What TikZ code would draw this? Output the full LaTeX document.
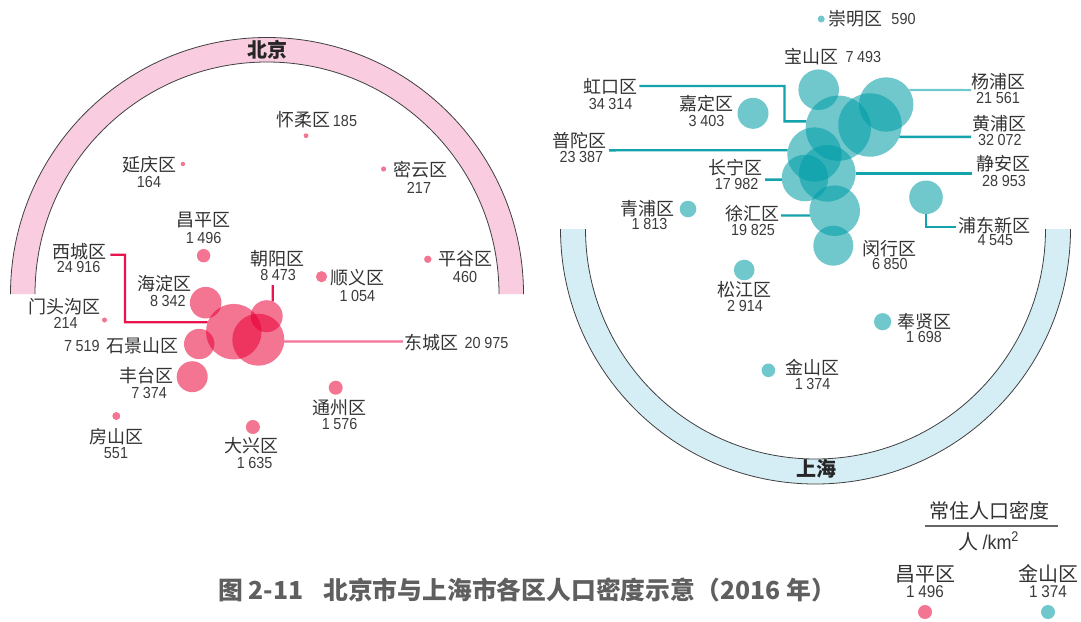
\documentclass[tikz,border=0pt]{standalone}
\usepackage{fontspec}
\newfontfamily\cjk{Noto Sans CJK SC}
\newfontfamily\numf{Liberation Sans}[FakeStretch=0.9]
\newcommand{\gp}{\hspace{0.22em}}
\definecolor{bjcol}{RGB}{233,0,55}
\definecolor{bjdark}{RGB}{232,20,80}
\definecolor{bjlight}{RGB}{243,115,148}
\definecolor{shcol}{RGB}{0,158,167}
\definecolor{shdark}{RGB}{20,162,172}
\definecolor{shlight}{RGB}{112,200,205}
\definecolor{bjband}{RGB}{249,204,224}
\definecolor{shband}{RGB}{213,238,245}
\definecolor{labgray}{RGB}{51,51,51}
\definecolor{numgray}{RGB}{60,60,60}
\definecolor{capgray}{RGB}{95,95,95}
\begin{document}
\begin{tikzpicture}[x=1pt,y=-1pt,
  bjc/.style={circle,inner sep=0pt,outer sep=0pt,draw=none,fill=bjcol,fill opacity=0.54,minimum size=#1*2pt},
  shc/.style={circle,inner sep=0pt,outer sep=0pt,draw=none,fill=shcol,fill opacity=0.56,minimum size=#1*2pt},
  lab/.style={inner sep=0pt,text=labgray,font=\cjk\fontsize{18}{18}\selectfont},
  num/.style={inner sep=0pt,text=numgray,font=\numf\fontsize{16}{16}\selectfont},
  leglab/.style={inner sep=0pt,text=labgray,font=\cjk\fontsize{20}{20}\selectfont},
  legnum/.style={inner sep=0pt,text=numgray,font=\numf\fontsize{17}{17}\selectfont},
  bandlab/.style={inner sep=0pt,text=black!85,font=\cjk\bfseries\fontsize{20}{20}\selectfont},
  bandline/.style={draw=black!75,line width=0.8pt},
  bjline/.style={draw=bjdark,line width=2.3pt},
  bjlline/.style={draw=bjlight,line width=2.1pt},
  shline/.style={draw=shdark,line width=2.4pt},
  shlline/.style={draw=shlight,line width=2.2pt},
  legline/.style={draw=black!60,line width=1.2pt},
  caption/.style={inner sep=0pt,text=capgray,font=\cjk\bfseries\fontsize{24.8}{24.8}\selectfont}]
\useasboundingbox (0,0) rectangle (1081,621);
\fill[white] (0,0) rectangle (1081,621);

% ---------- Beijing band ----------
\coordinate (bjctr) at (267,294);
\fill[bjband] (bjctr) ++(180:256.5pt) arc[start angle=180,end angle=0,radius=256.5pt] -- ++(-24.5pt,0pt) arc[start angle=0,end angle=180,radius=232pt] -- cycle;
\draw[bandline] (bjctr) ++(180:256.5pt) arc[start angle=180,end angle=0,radius=256.5pt];
\draw[bandline] (bjctr) ++(180:232pt) arc[start angle=180,end angle=0,radius=232pt];
\node[bandlab] (bjname) at (267,50) {北京};

% ---------- Shanghai band ----------
\coordinate (shctr) at (815.5,229);
\fill[shband] (shctr) ++(180:255pt) arc[start angle=180,end angle=360,radius=255pt] -- ++(-25pt,0pt) arc[start angle=360,end angle=180,radius=230pt] -- cycle;
\draw[bandline] (shctr) ++(180:255pt) arc[start angle=180,end angle=360,radius=255pt];
\draw[bandline] (shctr) ++(180:230pt) arc[start angle=180,end angle=360,radius=230pt];
\node[bandlab] (shname) at (816,469) {上海};

% ---------- Beijing circles ----------
\node[bjc=6.7] (cp) at (203.6,255.7) {};
\node[bjc=15.8] (hd) at (205.7,302.7) {};
\node[bjc=27.8] (xc) at (233.8,331.7) {};
\node[bjc=26] (dc) at (258.3,339.7) {};
\node[bjc=16] (cy) at (266.7,316.2) {};
\node[bjc=15.2] (sjs) at (199.2,344) {};
\node[bjc=15.5] (ft) at (192.2,376.7) {};
\node[bjc=5.6] (sy) at (321.5,276.7) {};
\node[bjc=3.7] (pg) at (427.8,259.3) {};
\node[bjc=2.5] (mtg) at (104.5,320) {};
\node[bjc=7] (tz) at (335.7,387.7) {};
\node[bjc=4] (fs) at (116.3,416) {};
\node[bjc=7] (dx) at (252.9,427) {};
\node[bjc=2.4] (hr) at (306,135.7) {};
\node[bjc=2.2] (yq) at (182.9,164) {};
\node[bjc=2.6] (my) at (383.6,169) {};

% ---------- Beijing leaders ----------
\coordinate (xcA) at (110.4,254.7);
\coordinate (xcB) at (124.9,254.7);
\coordinate (xcC) at (124.9,322.2);
\draw[bjline] (xcA) -- (xcB) -- (xcC) -- (xc.160);
\coordinate (cyA) at (272.7,285);
\draw[bjline] (cyA) -- (cy.68);
\coordinate (dcA) at (403,341.5);
\draw[bjlline] (dc.-4) -- (dcA);

% ---------- Beijing labels ----------
\node[lab] (hrl) at (303.5,120) {怀柔区};
\node[num] (hrn) at (345,121.3) {185};
\node[lab] (yql) at (149,165) {延庆区};
\node[num] (yqn) at (149,181.7) {164};
\node[lab] (myl) at (420,170) {密云区};
\node[num] (myn) at (419,187.7) {217};
\node[lab] (cpl) at (203.6,220) {昌平区};
\node[num] (cpn) at (203.6,238.3) {1\gp 496};
\node[lab] (xcl) at (79,251.7) {西城区};
\node[num] (xcn) at (78.6,267.3) {24\gp 916};
\node[lab] (cyl) at (277.8,258.3) {朝阳区};
\node[num] (cyn) at (278.2,275) {8\gp 473};
\node[lab] (syl) at (357.4,277.3) {顺义区};
\node[num] (syn) at (357.4,296) {1\gp 054};
\node[lab] (pgl) at (465,259.3) {平谷区};
\node[num] (pgn) at (465,277.3) {460};
\node[lab] (hdl) at (164.5,283.3) {海淀区};
\node[num] (hdn) at (167.8,301) {8\gp 342};
\node[lab] (mtgl) at (64.7,306.7) {门头沟区};
\node[num] (mtgn) at (65.6,323.3) {214};
\node[num] (sjsn) at (81.9,346.3) {7\gp 519};
\node[lab] (sjsl) at (142.2,346) {石景山区};
\node[lab] (dcl) at (431.8,342.7) {东城区};
\node[num] (dcn) at (486.5,343) {20\gp 975};
\node[lab] (ftl) at (146.6,376) {丰台区};
\node[num] (ftn) at (149.2,392.7) {7\gp 374};
\node[lab] (tzl) at (339,407.3) {通州区};
\node[num] (tzn) at (339.6,424) {1\gp 576};
\node[lab] (fsl) at (116.6,436.7) {房山区};
\node[num] (fsn) at (116,452.7) {551};
\node[lab] (dxl) at (251.6,446) {大兴区};
\node[num] (dxn) at (254.6,462.7) {1\gp 635};

% ---------- Shanghai circles ----------
\node[shc=3.5] (cm) at (821.2,19) {};
\node[shc=20.3] (bs) at (818.7,89.7) {};
\node[shc=15.5] (jd) at (753,113.3) {};
\node[shc=32.6] (hk) at (838.3,128.2) {};
\node[shc=27.2] (yp) at (886.2,104.5) {};
\node[shc=31.7] (hp) at (870,125) {};
\node[shc=27.2] (pt) at (814.5,154.5) {};
\node[shc=23.3] (cn) at (805,178) {};
\node[shc=28.3] (ja) at (827.3,173.3) {};
\node[shc=25.3] (xh) at (834.7,210.7) {};
\node[shc=20] (mh) at (833.3,245.7) {};
\node[shc=16.8] (pd) at (926,197.3) {};
\node[shc=8.3] (qp) at (688,209) {};
\node[shc=10.3] (sj) at (744.2,270) {};
\node[shc=8.6] (fx) at (882.6,321.7) {};
\node[shc=6.8] (js) at (768.4,370.3) {};

% ---------- Shanghai leaders ----------
\coordinate (hkA) at (639.4,86);
\coordinate (hkB) at (784.5,86);
\coordinate (hkC) at (784.5,121.4);
\draw[shline] (hkA) -- (hkB) -- (hkC) -- (hk.168);
\coordinate (ypA) at (971,90.1);
\draw[shlline] (yp.32) -- (ypA);
\coordinate (hpA) at (971,136.9);
\draw[shline] (hp.-22) -- (hpA);
\coordinate (ptA) at (609,150.3);
\draw[shline] (ptA) -- (pt.171);
\coordinate (cnA) at (765,179.6);
\draw[shline] (cnA) -- (cn.184);
\coordinate (jaA) at (972,173.3);
\draw[shline] (ja.0) -- (jaA);
\coordinate (xhA) at (781,215.5);
\draw[shline] (xhA) -- (xh.191);
\coordinate (pdA) at (926,226.7);
\coordinate (pdB) at (956,226.7);
\draw[shline] (pd.-90) -- (pdA) -- (pdB);

% ---------- Shanghai labels ----------
\node[lab] (cml) at (855.5,19) {崇明区};
\node[num] (cmn) at (903.5,19.3) {590};
\node[lab] (bsl) at (811.8,56.7) {宝山区};
\node[num] (bsn) at (863.3,57) {7\gp 493};
\node[lab] (hkl) at (610,86) {虹口区};
\node[num] (hkn) at (610.7,104) {34\gp 314};
\node[lab] (jdl) at (706.8,104) {嘉定区};
\node[num] (jdn) at (706.5,121) {3\gp 403};
\node[lab] (ptl) at (579.6,140.7) {普陀区};
\node[num] (ptn) at (581.4,156.7) {23\gp 387};
\node[lab] (cnl) at (735.8,167.3) {长宁区};
\node[num] (cnn) at (736.7,184.3) {17\gp 982};
\node[lab] (qpl) at (647.6,208.3) {青浦区};
\node[num] (qpn) at (649.5,224) {1\gp 813};
\node[lab] (xhl) at (752,213.3) {徐汇区};
\node[num] (xhn) at (753,230) {19\gp 825};
\node[lab] (ypl) at (998.7,81.7) {杨浦区};
\node[num] (ypn) at (998,97.7) {21\gp 561};
\node[lab] (hpl) at (999.8,124) {黄浦区};
\node[num] (hpn) at (999.8,140) {32\gp 072};
\node[lab] (jal) at (1003,164) {静安区};
\node[num] (jan) at (1004,181) {28\gp 953};
\node[lab] (pdl) at (994.5,225.7) {浦东新区};
\node[num] (pdn) at (995.4,240) {4\gp 545};
\node[lab] (mhl) at (889.8,248.3) {闵行区};
\node[num] (mhn) at (889.8,264.3) {6\gp 850};
\node[lab] (sjl) at (744.2,290) {松江区};
\node[num] (sjn) at (745,306) {2\gp 914};
\node[lab] (fxl) at (924,321.7) {奉贤区};
\node[num] (fxn) at (924,337.3) {1\gp 698};
\node[lab] (jsl) at (812,367.7) {金山区};
\node[num] (jsn) at (812.7,384) {1\gp 374};

% ---------- Legend ----------
\node[leglab] (legt) at (989,511) {常住人口密度};
\coordinate (legL) at (925,526);
\coordinate (legR) at (1058,526);
\draw[legline] (legL) -- (legR);
\node[leglab] (legu) at (988.5,541.5) {人 {\numf /km\textsuperscript{2}}};
\node[leglab] (lgcp) at (925,574) {昌平区};
\node[legnum] (lgcpn) at (925,592) {1\gp 496};
\node[bjc=7] (lgcpd) at (925,612) {};
\node[leglab] (lgjs) at (1048,574) {金山区};
\node[legnum] (lgjsn) at (1048,592) {1\gp 374};
\node[shc=7] (lgjsd) at (1048,612) {};

% ---------- Caption ----------
\node[caption,anchor=west] (cap) at (218,590) {图 2-11\hspace{0.8em}北京市与上海市各区人口密度示意（2016 年）};
\end{tikzpicture}
\end{document}
